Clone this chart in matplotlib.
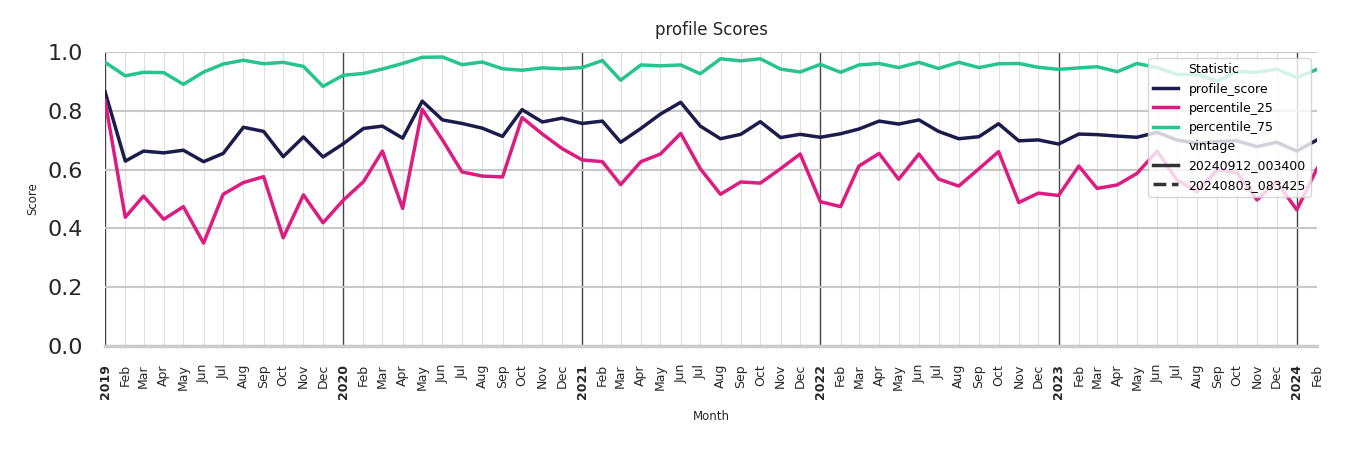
import numpy as np
import pandas as pd
import matplotlib
matplotlib.use("Agg")
import matplotlib.pyplot as plt
import matplotlib.dates as mdates
from matplotlib.lines import Line2D

# monthly points, Jan 2019 .. Feb 2024
months = pd.date_range("2019-01-01", "2024-02-01", freq="MS")

profile_score = [
    0.865, 0.629, 0.663, 0.657, 0.666, 0.627, 0.655, 0.744, 0.730, 0.644, 0.711, 0.643,
    0.688, 0.740, 0.748, 0.707, 0.833, 0.769, 0.757, 0.741, 0.713, 0.804, 0.762, 0.775,
    0.757, 0.765, 0.693, 0.740, 0.789, 0.829, 0.748, 0.705, 0.720, 0.763, 0.709, 0.720,
    0.710, 0.722, 0.738, 0.765, 0.755, 0.769, 0.730, 0.705, 0.712, 0.756, 0.698, 0.701,
    0.687, 0.721, 0.719, 0.714, 0.710, 0.727, 0.701, 0.689, 0.695, 0.698, 0.678, 0.693,
    0.663, 0.701,
]
percentile_25 = [
    0.835, 0.438, 0.510, 0.431, 0.474, 0.350, 0.516, 0.556, 0.576, 0.368, 0.514, 0.419,
    0.496, 0.559, 0.663, 0.468, 0.805, 0.701, 0.592, 0.578, 0.575, 0.777, 0.721, 0.672,
    0.633, 0.627, 0.549, 0.627, 0.653, 0.723, 0.603, 0.516, 0.558, 0.554, 0.603, 0.653,
    0.491, 0.474, 0.612, 0.655, 0.567, 0.653, 0.568, 0.544, 0.603, 0.661, 0.488, 0.520,
    0.512, 0.612, 0.536, 0.548, 0.587, 0.663, 0.565, 0.525, 0.599, 0.590, 0.497, 0.559,
    0.463, 0.604,
]
percentile_75 = [
    0.965, 0.919, 0.931, 0.930, 0.890, 0.932, 0.959, 0.972, 0.960, 0.965, 0.951, 0.883,
    0.921, 0.927, 0.942, 0.961, 0.982, 0.983, 0.957, 0.966, 0.943, 0.938, 0.946, 0.943,
    0.947, 0.971, 0.904, 0.956, 0.953, 0.956, 0.926, 0.977, 0.970, 0.977, 0.942, 0.932,
    0.958, 0.931, 0.956, 0.961, 0.947, 0.965, 0.944, 0.965, 0.947, 0.960, 0.961, 0.948,
    0.941, 0.946, 0.950, 0.933, 0.961, 0.947, 0.924, 0.924, 0.901, 0.933, 0.931, 0.942,
    0.913, 0.941,
]

stats = ["profile_score", "percentile_25", "percentile_75"]
colors = {"profile_score": "#1c1c4c", "percentile_25": "#dc1c80", "percentile_75": "#26c48e"}
series = {"profile_score": profile_score, "percentile_25": percentile_25,
          "percentile_75": percentile_75}
vintages = ["20240912_003400", "20240803_083425"]

fig = plt.figure(figsize=(13.5, 4.5), dpi=100)
ax = fig.add_axes([0.0778, 0.2311, 0.8978, 0.6533])

for s in stats:
    ax.plot(months, series[s], color=colors[s], lw=2.5, zorder=3)

ax.set_ylim(0, 1.0)
ax.set_xlim(months[0], months[-1])
ax.set_yticks(np.arange(0, 1.01, 0.2))
ax.yaxis.set_major_formatter(plt.FuncFormatter(lambda v, p: f"{v:.1f}"))
ax.tick_params(axis="y", labelsize=16, length=0, colors="#262626", pad=16)

# x ticks: years bold at January, month names between
ax.xaxis.set_major_locator(mdates.YearLocator())
ax.xaxis.set_major_formatter(mdates.DateFormatter("%Y"))
ax.xaxis.set_minor_locator(mdates.MonthLocator(bymonth=range(2, 13)))
ax.xaxis.set_minor_formatter(mdates.DateFormatter("%b"))
ax.tick_params(axis="x", which="both", length=0, labelsize=9, labelrotation=90,
               colors="#262626", pad=13)
for lbl in ax.get_xticklabels(which="major"):
    lbl.set_fontweight("bold")

ax.grid(axis="y", color="#c8c8c8", lw=1.5, zorder=1)
ax.grid(axis="x", which="major", color="#444444", lw=1.0, zorder=1)
ax.grid(axis="x", which="minor", color="#e0e0e0", lw=0.8, zorder=1)

for sp in ["top", "right", "left"]:
    ax.spines[sp].set_visible(False)
ax.spines["bottom"].set_color("#cccccc")
ax.spines["bottom"].set_linewidth(2.5)

ax.set_title("profile Scores", fontsize=12, color="#262626", pad=12)
ax.set_xlabel("Month", fontsize=8.5, color="#262626", labelpad=8)
ax.set_ylabel("Score", fontsize=8.5, color="#262626", labelpad=6)

# legend with heading rows, seaborn style
handles = [Line2D([], [], color="none", label="Statistic")]
for s in stats:
    handles.append(Line2D([], [], color=colors[s], lw=2.5, label=s))
handles.append(Line2D([], [], color="none", label="vintage"))
handles.append(Line2D([], [], color="#333333", lw=2.5, ls="-", label=vintages[0]))
handles.append(Line2D([], [], color="#333333", lw=2.5, ls="--", label=vintages[1]))
leg = ax.legend(handles=handles, loc="upper right", fontsize=9, framealpha=0.8,
                edgecolor="#cccccc", borderaxespad=0.5, handlelength=2.0)
leg.set_zorder(5)

fig.savefig("out.png", dpi=100)
